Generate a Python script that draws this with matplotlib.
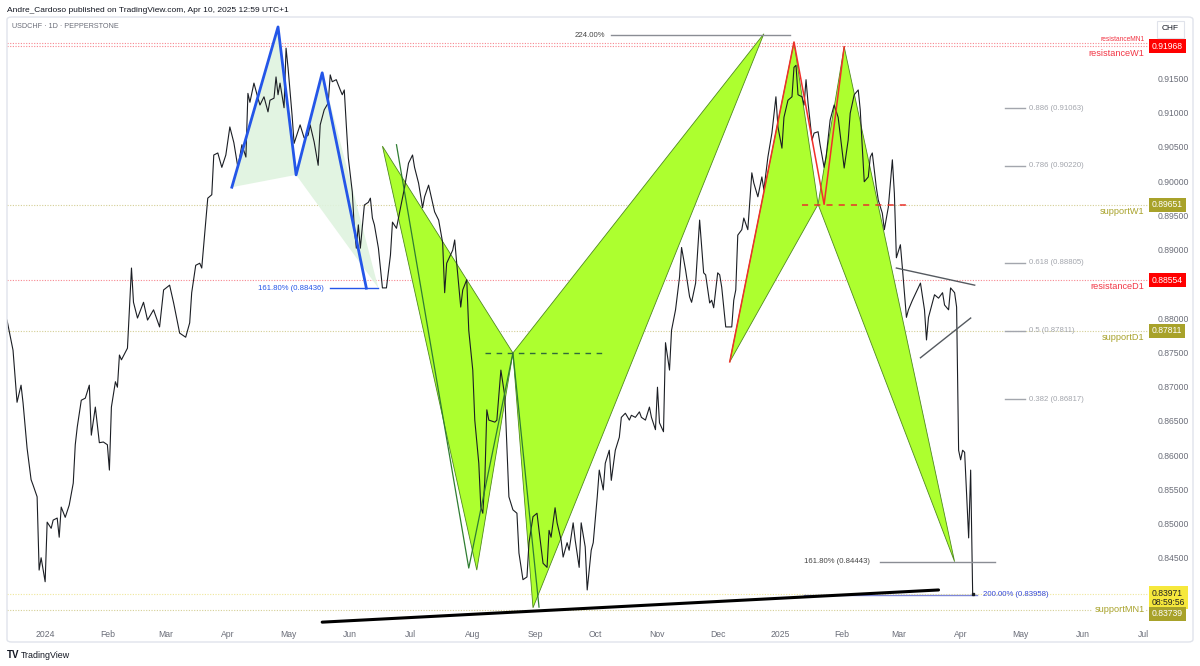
import matplotlib
matplotlib.use("Agg")
import matplotlib.pyplot as plt
import matplotlib.dates as mdates
from matplotlib.patches import FancyBboxPatch
import pandas as pd

plt.rcParams['font.family'] = ['Liberation Sans', 'DejaVu Sans']

# USDCHF daily closes
close_dates = [
    '2023-12-13', '2023-12-16', '2023-12-18', '2023-12-20', '2023-12-21', '2023-12-23',
    '2023-12-25', '2023-12-26', '2023-12-28', '2023-12-29', '2023-12-30', '2024-01-01',
    '2024-01-02', '2024-01-04', '2024-01-05', '2024-01-07', '2024-01-08', '2024-01-09',
    '2024-01-11', '2024-01-13', '2024-01-15', '2024-01-16', '2024-01-17', '2024-01-19',
    '2024-01-21', '2024-01-23', '2024-01-24', '2024-01-26', '2024-01-28', '2024-01-30',
    '2024-02-01', '2024-02-02', '2024-02-03', '2024-02-05', '2024-02-06', '2024-02-07',
    '2024-02-08', '2024-02-11', '2024-02-13', '2024-02-14', '2024-02-16', '2024-02-19',
    '2024-02-21', '2024-02-24', '2024-02-27', '2024-02-29', '2024-03-03', '2024-03-05',
    '2024-03-08', '2024-03-11', '2024-03-13', '2024-03-14', '2024-03-16', '2024-03-18',
    '2024-03-19', '2024-03-22', '2024-03-24', '2024-03-25', '2024-03-27', '2024-03-29',
    '2024-03-31', '2024-04-02', '2024-04-04', '2024-04-06', '2024-04-08', '2024-04-10',
    '2024-04-11', '2024-04-12', '2024-04-14', '2024-04-16', '2024-04-17', '2024-04-19',
    '2024-04-21', '2024-04-22', '2024-04-24', '2024-04-25', '2024-04-26', '2024-04-27',
    '2024-04-29', '2024-04-30', '2024-05-01', '2024-05-03', '2024-05-04', '2024-05-07',
    '2024-05-09', '2024-05-11', '2024-05-12', '2024-05-14', '2024-05-16', '2024-05-17',
    '2024-05-19', '2024-05-21', '2024-05-22', '2024-05-23', '2024-05-25', '2024-05-27',
    '2024-05-28', '2024-05-29', '2024-05-30', '2024-05-31', '2024-06-02', '2024-06-03',
    '2024-06-04', '2024-06-05', '2024-06-06', '2024-06-08', '2024-06-10', '2024-06-11',
    '2024-06-12', '2024-06-13', '2024-06-15', '2024-06-17', '2024-06-19', '2024-06-21',
    '2024-06-22', '2024-06-24', '2024-06-26', '2024-06-28', '2024-06-30', '2024-07-02',
    '2024-07-03', '2024-07-05', '2024-07-07', '2024-07-08', '2024-07-10', '2024-07-12',
    '2024-07-13', '2024-07-15', '2024-07-17', '2024-07-18', '2024-07-19', '2024-07-22',
    '2024-07-23', '2024-07-24', '2024-07-26', '2024-07-27', '2024-07-29', '2024-07-30',
    '2024-08-01', '2024-08-02', '2024-08-04', '2024-08-05', '2024-08-06', '2024-08-07',
    '2024-08-08', '2024-08-09', '2024-08-12', '2024-08-13', '2024-08-15', '2024-08-16',
    '2024-08-17', '2024-08-18', '2024-08-19', '2024-08-21', '2024-08-23', '2024-08-24',
    '2024-08-26', '2024-08-28', '2024-08-29', '2024-08-31', '2024-09-02', '2024-09-03',
    '2024-09-05', '2024-09-07', '2024-09-08', '2024-09-09', '2024-09-11', '2024-09-12',
    '2024-09-14', '2024-09-15', '2024-09-17', '2024-09-18', '2024-09-20', '2024-09-21',
    '2024-09-23', '2024-09-24', '2024-09-26', '2024-09-27', '2024-09-29', '2024-09-30',
    '2024-10-02', '2024-10-03', '2024-10-05', '2024-10-06', '2024-10-08', '2024-10-09',
    '2024-10-11', '2024-10-13', '2024-10-14', '2024-10-16', '2024-10-18', '2024-10-19',
    '2024-10-21', '2024-10-23', '2024-10-24', '2024-10-26', '2024-10-28', '2024-10-29',
    '2024-10-31', '2024-11-01', '2024-11-02', '2024-11-04', '2024-11-05', '2024-11-07',
    '2024-11-08', '2024-11-10', '2024-11-12', '2024-11-13', '2024-11-15', '2024-11-17',
    '2024-11-18', '2024-11-20', '2024-11-22', '2024-11-24', '2024-11-25', '2024-11-27',
    '2024-11-28', '2024-11-29', '2024-12-01', '2024-12-02', '2024-12-03', '2024-12-05',
    '2024-12-08', '2024-12-09', '2024-12-10', '2024-12-11', '2024-12-13', '2024-12-14',
    '2024-12-16', '2024-12-18', '2024-12-19', '2024-12-21', '2024-12-23', '2024-12-24',
    '2024-12-26', '2024-12-28', '2024-12-30', '2024-12-31', '2025-01-02', '2025-01-03',
    '2025-01-05', '2025-01-07', '2025-01-08', '2025-01-09', '2025-01-10', '2025-01-12',
    '2025-01-13', '2025-01-14', '2025-01-15', '2025-01-17', '2025-01-18', '2025-01-20',
    '2025-01-21', '2025-01-23', '2025-01-24', '2025-01-26', '2025-01-28', '2025-01-30',
    '2025-02-02', '2025-02-04', '2025-02-05', '2025-02-07', '2025-02-09', '2025-02-10',
    '2025-02-11', '2025-02-12', '2025-02-14', '2025-02-15', '2025-02-16', '2025-02-18',
    '2025-02-19', '2025-02-21', '2025-02-22', '2025-02-24', '2025-02-26', '2025-02-27',
    '2025-02-28', '2025-03-02', '2025-03-03', '2025-03-05', '2025-03-06', '2025-03-08',
    '2025-03-12', '2025-03-14', '2025-03-15', '2025-03-16', '2025-03-19', '2025-03-21',
    '2025-03-23', '2025-03-24', '2025-03-26', '2025-03-27', '2025-03-29', '2025-03-30',
    '2025-03-31', '2025-04-01', '2025-04-02', '2025-04-03', '2025-04-05', '2025-04-06',
    '2025-04-07',
]
close_prices = [
    0.8797, 0.8753, 0.8677, 0.8702, 0.8676, 0.8610,
    0.8564, 0.8556, 0.8539, 0.8432, 0.8450, 0.8415,
    0.8502, 0.8493, 0.8505, 0.8508, 0.8480, 0.8524,
    0.8509, 0.8527, 0.8559, 0.8615, 0.8641, 0.8680,
    0.8683, 0.8702, 0.8629, 0.8670, 0.8618, 0.8619,
    0.8615, 0.8578, 0.8670, 0.8707, 0.8699, 0.8746,
    0.8739, 0.8756, 0.8873, 0.8823, 0.8800, 0.8823,
    0.8797, 0.8812, 0.8787, 0.8841, 0.8848, 0.8822,
    0.8778, 0.8772, 0.8793, 0.8837, 0.8877, 0.8880,
    0.8873, 0.8975, 0.8980, 0.9038, 0.9041, 0.9020,
    0.9038, 0.9079, 0.9056, 0.9020, 0.9053, 0.9035,
    0.9128, 0.9115, 0.9143, 0.9121, 0.9111, 0.9123,
    0.9101, 0.9118, 0.9121, 0.9152, 0.9126, 0.9143,
    0.9107, 0.9194, 0.9165, 0.9096, 0.9055, 0.9082,
    0.9063, 0.9067, 0.9082, 0.9057, 0.9023, 0.9082,
    0.9104, 0.9114, 0.9155, 0.9145, 0.9148, 0.9133,
    0.9126, 0.9133, 0.9082, 0.9034, 0.8984, 0.8931,
    0.8902, 0.8936, 0.8902, 0.8965, 0.8969, 0.8975,
    0.8946, 0.8936, 0.8902, 0.8844, 0.8844, 0.8892,
    0.8940, 0.8931, 0.8961, 0.8990, 0.9026, 0.9038,
    0.9020, 0.8997, 0.8961, 0.8977, 0.8994, 0.8968,
    0.8955, 0.8943, 0.8910, 0.8837, 0.8880, 0.8899,
    0.8914, 0.8880, 0.8816, 0.8841, 0.8856, 0.8782,
    0.8724, 0.8651, 0.8588, 0.8524, 0.8515, 0.8563,
    0.8666, 0.8651, 0.8648, 0.8651, 0.8724, 0.8705,
    0.8685, 0.8612, 0.8539, 0.8520, 0.8515, 0.8457,
    0.8418, 0.8422, 0.8472, 0.8510, 0.8515, 0.8490,
    0.8442, 0.8436, 0.8490, 0.8480, 0.8523, 0.8501,
    0.8476, 0.8451, 0.8472, 0.8461, 0.8501, 0.8476,
    0.8436, 0.8501, 0.8466, 0.8403, 0.8461, 0.8472,
    0.8539, 0.8578, 0.8549, 0.8588, 0.8607, 0.8563,
    0.8607, 0.8626, 0.8655, 0.8661, 0.8651, 0.8658,
    0.8655, 0.8663, 0.8655, 0.8651, 0.8670, 0.8655,
    0.8637, 0.8699, 0.8647, 0.8634, 0.8764, 0.8724,
    0.8782, 0.8812, 0.8860, 0.8903, 0.8870, 0.8831,
    0.8823, 0.8851, 0.8943, 0.8866, 0.8863, 0.8822,
    0.8826, 0.8815, 0.8866, 0.8863, 0.8845, 0.8787,
    0.8787, 0.8826, 0.8841, 0.8921, 0.8929, 0.8946,
    0.8929, 0.9012, 0.8997, 0.8977, 0.9006, 0.8987,
    0.9035, 0.9070, 0.9123, 0.9079, 0.9048, 0.9093,
    0.9118, 0.9123, 0.9166, 0.9169, 0.9126, 0.9123,
    0.9111, 0.9148, 0.9114, 0.9060, 0.9070, 0.9072,
    0.9053, 0.9020, 0.9035, 0.9089, 0.9111, 0.9093,
    0.9019, 0.9060, 0.9099, 0.9126, 0.9133, 0.9104,
    0.9050, 0.8999, 0.9006, 0.9035, 0.9041, 0.8991,
    0.8972, 0.8953, 0.8929, 0.8962, 0.9031, 0.8982,
    0.8888, 0.8907, 0.8873, 0.8801, 0.8812, 0.8826,
    0.8851, 0.8812, 0.8768, 0.8801, 0.8834, 0.8829,
    0.8837, 0.8819, 0.8812, 0.8844, 0.8837, 0.8816,
    0.8607, 0.8593, 0.8607, 0.8604, 0.8479, 0.8578,
    0.8397,
]

# horizontal key levels
resistance_names = ['resistanceMN1', 'resistanceW1', 'resistanceD1']
resistance_prices = [0.92010, 0.91968, 0.88554]
support_names = ['supportW1', 'supportD1', 'supportMN1']
support_prices = [0.89651, 0.87811, 0.83739]
last_price = 0.83971
last_time = '08:59:56'

# blue pattern (left), pale fill corner after D
blue_dates = ['2024-04-03', '2024-04-26', '2024-05-05', '2024-05-18', '2024-06-09']
blue_prices = [0.8991, 0.9225, 0.9009, 0.9158, 0.88436]
blue_fill_end = '2024-06-15'
blue_ext_dates = ['2024-05-22', '2024-06-15']
blue_ext_price = 0.88436

# lime pattern (middle)
bat_dates = ['2024-06-17', '2024-08-03', '2024-08-21', '2024-08-31', '2024-12-24']
bat_prices = [0.9051, 0.8432, 0.8749, 0.8377, 0.9215]
bat_leg_dates = ['2024-06-24', '2024-07-30', '2024-08-21', '2024-09-03']
bat_leg_prices = [0.9053, 0.8435, 0.8749, 0.8378]
bat_dash_dates = ['2024-08-07', '2024-10-06']
bat_dash_price = 0.8749
ext224_dates = ['2024-10-09', '2025-01-06']
ext224_price = 0.9213

# lime pattern (right) with red legs
shark_dates = ['2024-12-07', '2025-01-08', '2025-01-20', '2025-02-02', '2025-03-29']
shark_prices = [0.8736, 0.9203, 0.8966, 0.9196, 0.84443]
red_leg_dates = ['2024-12-07', '2025-01-08', '2025-01-23', '2025-02-02']
red_leg_prices = [0.8736, 0.9203, 0.8966, 0.9196]
red_dash_dates = ['2025-01-12', '2025-03-06']
red_dash_price = 0.8965
ext1618_dates = ['2025-02-20', '2025-04-18']
ext1618_price = 0.84443
ext200_dates = ['2025-01-13', '2025-04-09']
ext200_price = 0.83958

# fib retracement labels
fib_ratios = ['0.886', '0.786', '0.618', '0.5', '0.382']
fib_prices = [0.91063, 0.90220, 0.88805, 0.87811, 0.86817]
fib_line_dates = ['2025-04-23', '2025-05-03']

# trend lines
trend_dates = ['2024-05-18', '2025-03-21']
trend_prices = [0.8356, 0.8403]
wedge_top_dates = ['2025-02-28', '2025-04-08']
wedge_top_prices = [0.8873, 0.8848]
wedge_bot_dates = ['2025-03-12', '2025-04-06']
wedge_bot_prices = [0.8742, 0.8800]

price_ticks = [0.845, 0.850, 0.855, 0.860, 0.865, 0.870, 0.875, 0.880,
               0.890, 0.895, 0.900, 0.905, 0.910, 0.915]
month_ticks = pd.date_range('2024-01-01', '2025-07-01', freq='MS')
month_labels = ['2024', 'Feb', 'Mar', 'Apr', 'May', 'Jun', 'Jul', 'Aug', 'Sep', 'Oct',
                'Nov', 'Dec', '2025', 'Feb', 'Mar', 'Apr', 'May', 'Jun', 'Jul']

RED = '#f23645'
OLIVE = '#a8a22a'
LIME = '#adff2f'
LIME_EDGE = '#4f8a1f'
BLUE = '#2456e8'
GREY_TXT = '#6a6d78'
FIB_GREY = '#a3a6ad'


def dn(d):
    return mdates.date2num(pd.to_datetime(d))


fig = plt.figure(figsize=(12, 6.66), dpi=100)
fig.patch.set_facecolor('white')
ax = fig.add_axes([7 / 1200, 42 / 666, 1141 / 1200, 607 / 666])
ax.set_facecolor('white')
for s in ax.spines.values():
    s.set_visible(False)

ax.set_xlim(dn('2023-12-13'), dn('2025-07-03 08:00'))
ax.set_ylim(0.83533, 0.92395)

# key levels
dot = (0, (1, 1.4))
for p in resistance_prices:
    ax.axhline(p, color=RED, lw=0.8, ls=dot, alpha=0.6, zorder=1)
for p in support_prices:
    ax.axhline(p, color='#c9c27a', lw=0.8, ls=dot, alpha=0.8, zorder=1)
ax.axhline(last_price, color='#efe79a', lw=0.8, ls=dot, zorder=1)

# blue pattern
bx = dn(blue_dates)
ax.fill([bx[0], bx[1], bx[2]], blue_prices[:3], color='#dff3df', alpha=0.9, lw=0, zorder=2)
ax.fill([bx[2], bx[3], dn(blue_fill_end)], [blue_prices[2], blue_prices[3], blue_prices[4]],
        color='#dff3df', alpha=0.9, lw=0, zorder=2)
ax.plot(bx, blue_prices, color=BLUE, lw=2, zorder=5)
ax.plot(dn(blue_ext_dates), [blue_ext_price] * 2, color=BLUE, lw=1, zorder=5)
ax.text(dn('2024-05-19'), blue_ext_price, '161.80% (0.88436)', color=BLUE, fontsize=5.6,
        ha='right', va='center', zorder=6)

# lime patterns
for dates, prices in [(bat_dates, bat_prices), (shark_dates, shark_prices)]:
    xs = dn(dates)
    ax.fill(xs[:3], prices[:3], facecolor=LIME, edgecolor=LIME_EDGE, lw=0.6, zorder=2)
    ax.fill(xs[2:], prices[2:], facecolor=LIME, edgecolor=LIME_EDGE, lw=0.6, zorder=2)

ax.plot(dn(bat_leg_dates), bat_leg_prices, color='#2f7d32', lw=0.9, zorder=4)
ax.plot(dn(bat_dash_dates), [bat_dash_price] * 2, color='#2f6b3a', lw=1, ls=(0, (4, 4)), zorder=4)
ax.plot(dn(ext224_dates), [ext224_price] * 2, color='#8a8d94', lw=1, zorder=4)
ax.text(dn('2024-10-06'), ext224_price, '224.00%', color='#444', fontsize=5.6,
        ha='right', va='center', zorder=6)

ax.plot(dn(red_leg_dates), red_leg_prices, color='#f0302a', lw=1.1, zorder=4)
ax.plot(dn(red_dash_dates), [red_dash_price] * 2, color='#e8312b', lw=1.1, ls=(0, (4, 4)), zorder=4)
ax.plot(dn(ext1618_dates), [ext1618_price] * 2, color='#8a8d94', lw=1, zorder=4)
ax.text(dn('2025-02-15'), ext1618_price, '161.80% (0.84443)', color='#444', fontsize=5.6,
        ha='right', va='center', zorder=6)
ax.plot(dn(ext200_dates), [ext200_price] * 2, color='#7e87d8', lw=1, zorder=4)
ax.text(dn('2025-04-12'), ext200_price, '200.00% (0.83958)', color='#3347d6', fontsize=5.6,
        ha='left', va='center', zorder=6)

# trend lines
ax.plot(dn(trend_dates), trend_prices, color='black', lw=2.2, zorder=5, solid_capstyle='round')
ax.plot(dn(wedge_top_dates), wedge_top_prices, color='#555a60', lw=1, zorder=5)
ax.plot(dn(wedge_bot_dates), wedge_bot_prices, color='#555a60', lw=1, zorder=5)

# fib labels
for r, p in zip(fib_ratios, fib_prices):
    ax.plot(dn(fib_line_dates), [p, p], color=FIB_GREY, lw=1, zorder=4)
    ax.text(dn('2025-05-05'), p, '%s (%.5f)' % (r, p), color=FIB_GREY, fontsize=5.6,
            ha='left', va='center', zorder=6)

# price line
ax.plot(dn(close_dates), close_prices, color='#1b1e24', lw=0.8, zorder=3)
ax.plot(dn(close_dates[-1:]), close_prices[-1:], 's', color='#1b1e24', ms=2, zorder=6)

# level names inside the chart
trans = ax.get_yaxis_transform()
ax.text(0.997, resistance_prices[0], resistance_names[0], transform=trans, color=RED,
        fontsize=4.8, ha='right', va='bottom')
ax.text(0.997, resistance_prices[1] - 0.0004, resistance_names[1], transform=trans, color=RED,
        fontsize=6.6, ha='right', va='top')
ax.text(0.997, resistance_prices[2] - 0.0003, resistance_names[2], transform=trans, color=RED,
        fontsize=6.6, ha='right', va='top')
ax.text(0.997, support_prices[0] - 0.0003, support_names[0], transform=trans, color=OLIVE,
        fontsize=6.6, ha='right', va='top')
ax.text(0.997, support_prices[1] - 0.0003, support_names[1], transform=trans, color=OLIVE,
        fontsize=6.6, ha='right', va='top')
ax.text(0.997, support_prices[2], support_names[2], transform=trans, color=OLIVE,
        fontsize=6.6, ha='right', va='center',
        bbox=dict(boxstyle='square,pad=0.2', fc='white', ec='none'))

# axes ticks
ax.yaxis.tick_right()
ax.set_yticks(price_ticks)
ax.set_yticklabels(['%.5f' % t for t in price_ticks])
ax.set_xticks(dn(month_ticks))
ax.set_xticklabels(month_labels)
ax.tick_params(axis='y', length=0, pad=7, labelsize=6.2, labelcolor=GREY_TXT)
ax.tick_params(axis='x', length=0, pad=4, labelsize=6.2, labelcolor=GREY_TXT)

# price boxes on the axis
box_kw = dict(transform=trans, ha='left', va='center', fontsize=6.2, clip_on=False, zorder=10)
ax.text(1.0035, resistance_prices[1], '%.5f' % resistance_prices[1], color='white',
        bbox=dict(boxstyle='square,pad=0.3', fc='#ff0000', ec='none'), **box_kw)
ax.text(1.0035, resistance_prices[2], '%.5f' % resistance_prices[2], color='white',
        bbox=dict(boxstyle='square,pad=0.3', fc='#ff0000', ec='none'), **box_kw)
ax.text(1.0035, support_prices[0], '%.5f' % support_prices[0], color='white',
        bbox=dict(boxstyle='square,pad=0.3', fc=OLIVE, ec='none'), **box_kw)
ax.text(1.0035, support_prices[1], '%.5f' % support_prices[1], color='white',
        bbox=dict(boxstyle='square,pad=0.3', fc=OLIVE, ec='none'), **box_kw)
ax.text(1.0035, 0.83915, '%.5f\n%s' % (last_price, last_time), color='#222', linespacing=1.0,
        bbox=dict(boxstyle='square,pad=0.3', fc='#f6e83c', ec='none'), **box_kw)
ax.text(1.0035, 0.83685, '%.5f' % support_prices[2], color='white',
        bbox=dict(boxstyle='square,pad=0.3', fc=OLIVE, ec='none'), **box_kw)

# frame, header, footer
frame = FancyBboxPatch((7 / 1200, 1 - 642 / 666), 1186 / 1200, 625 / 666,
                       boxstyle='round,pad=0,rounding_size=0.004', transform=fig.transFigure,
                       fill=False, ec='#e0e3eb', lw=1)
fig.patches.append(frame)
fig.text(7 / 1200, 1 - 10 / 666, 'Andre_Cardoso published on TradingView.com, Apr 10, 2025 12:59 UTC+1',
         fontsize=6, color='#131722', va='center')
fig.text(12 / 1200, 1 - 27 / 666, 'USDCHF · 1D · PEPPERSTONE', fontsize=5.2, color='#6a6d78',
         va='center')
fig.text(1170 / 1200, 1 - 29 / 666, 'CHF', fontsize=6, color='#131722', ha='center', va='center',
         bbox=dict(boxstyle='square,pad=0.6', fc='white', ec='#e0e3eb', lw=0.8))
fig.text(7 / 1200, 1 - 655 / 666, 'TV', fontsize=7, weight='heavy', color='#131722', va='center')
fig.text(21 / 1200, 1 - 655 / 666, 'TradingView', fontsize=6.4, color='#131722', va='center')

fig.savefig('out.png', dpi=100)
